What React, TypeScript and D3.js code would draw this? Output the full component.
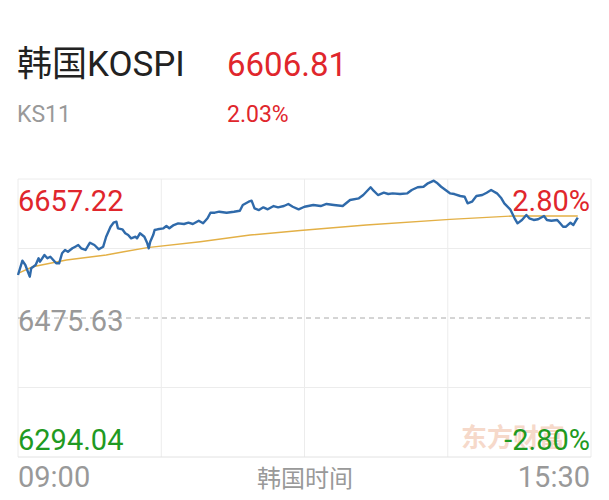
import React from "react";
import * as d3 from "d3";

// intraday minutes since 09:00 and index level
const minutes = [0, 3, 5, 8, 9, 12, 14, 15, 18, 20, 22, 24, 26, 28, 30, 32, 34, 37, 39, 41, 43, 46, 48, 49, 52, 55, 58, 60, 63, 65, 67, 68, 71, 73, 75, 77, 80, 81, 83, 86, 88, 89, 90, 92, 93, 95, 99, 101, 103, 106, 109, 113, 116, 119, 123, 126, 129, 131, 134, 137, 142, 147, 151, 153, 157, 159, 161, 164, 167, 170, 174, 177, 181, 184, 187, 191, 195, 201, 206, 210, 215, 221, 226, 232, 235, 240, 242, 245, 249, 252, 255, 260, 265, 268, 272, 276, 279, 283, 285, 288, 291, 294, 297, 301, 304, 306, 309, 312, 316, 319, 322, 326, 329, 331, 335, 338, 340, 343, 346, 348, 351, 354, 358, 360, 363, 367, 369, 371, 373, 376, 378, 380, 381];
const prices = [6531.8, 6550.5, 6544.9, 6529.6, 6540.6, 6544.9, 6553.6, 6549.2, 6557.9, 6553.6, 6555.7, 6551.4, 6547.1, 6547.1, 6560.2, 6564.5, 6562.2, 6566.7, 6568.8, 6571.0, 6566.7, 6564.5, 6571.0, 6574.0, 6571.0, 6565.4, 6568.8, 6581.8, 6594.9, 6600.1, 6601.4, 6592.8, 6591.5, 6586.3, 6584.0, 6579.7, 6581.8, 6579.7, 6586.3, 6581.8, 6573.2, 6566.7, 6575.3, 6584.0, 6590.6, 6591.5, 6592.8, 6595.8, 6592.8, 6597.1, 6599.3, 6598.4, 6600.1, 6598.4, 6602.7, 6599.3, 6605.9, 6613.2, 6613.2, 6614.5, 6613.2, 6614.5, 6615.8, 6623.3, 6627.6, 6628.9, 6618.9, 6616.7, 6620.2, 6617.6, 6621.9, 6620.2, 6621.9, 6624.6, 6621.0, 6617.6, 6621.0, 6623.3, 6621.9, 6624.6, 6623.3, 6621.9, 6629.8, 6632.0, 6636.3, 6646.4, 6641.9, 6636.3, 6639.3, 6637.6, 6638.5, 6637.6, 6638.5, 6642.8, 6646.4, 6647.1, 6651.6, 6655.0, 6652.4, 6647.1, 6642.8, 6638.5, 6637.6, 6635.0, 6634.1, 6625.4, 6627.6, 6635.0, 6636.3, 6639.3, 6642.8, 6638.5, 6632.0, 6625.4, 6617.6, 6605.9, 6599.3, 6603.7, 6610.2, 6605.9, 6603.7, 6604.6, 6608.9, 6603.7, 6602.7, 6603.7, 6599.3, 6594.9, 6594.9, 6600.1, 6597.1, 6603.7, 6606.81];

// average price line
const avgMinutes = [0, 10, 33, 60, 72, 88, 124, 158, 192, 237, 294, 337, 381];
const avgPrices = [6534.0, 6542.6, 6551.4, 6557.9, 6562.2, 6567.5, 6575.3, 6584.0, 6589.9, 6597.1, 6604.5, 6608.9, 6608.9];

const prevClose = 6475.63;
const upper = 6657.22;
const lower = 6294.04;
const lastPrice = "6606.81";
const changePct = "2.03%";
const timeLabels = ["09:00", "韩国时间", "15:30"];

const W = 609;
const H = 500;
const left = 18;
const right = 591;
const top = 179;
const bottom = 457;

const FONT = "Roboto, 'Noto Sans CJK SC', sans-serif";

export default function App() {
  const x = d3.scaleLinear().domain([0, 390]).range([left, right]);
  const y = d3.scaleLinear().domain([lower, upper]).range([bottom, top]);

  const priceLine = d3.line<number>()
    .x((_, i) => x(minutes[i]))
    .y((d) => y(d));
  const avgLine = d3.line<number>()
    .x((_, i) => x(avgMinutes[i]))
    .y((d) => y(d));

  const hTicks = d3.range(5).map((i) => lower + ((upper - lower) * i) / 4);
  const vTicks = d3.range(5).map((i) => (390 * i) / 4);

  return (
    <div style={{ position: "absolute", left: 0, top: 0 }}>
      <svg width={W} height={H} style={{ display: "block", background: "#fff" }}>
        <text x={17} y={76} fontFamily={FONT} fontSize={35} fill="#222">韩国KOSPI</text>
        <text x={227} y={76} fontFamily={FONT} fontSize={33} fill="#e0262c">{lastPrice}</text>
        <text x={17} y={122} fontFamily={FONT} fontSize={23} fill="#999">KS11</text>
        <text x={227} y={122} fontFamily={FONT} fontSize={23} fill="#e0262c">{changePct}</text>

        {/* grid */}
        {vTicks.map((t, i) => (
          <line key={"v" + i} x1={x(t)} x2={x(t)} y1={top} y2={bottom} stroke="#ececec" strokeWidth={1} />
        ))}
        {hTicks.map((t, i) =>
          i === 2 ? null : (
            <line key={"h" + i} x1={left} x2={right} y1={y(t)} y2={y(t)} stroke={i === 0 ? "#e2e2e2" : "#ececec"} strokeWidth={1} />
          )
        )}
        <line x1={left} x2={right} y1={y(prevClose)} y2={y(prevClose)} stroke="#aaa" strokeWidth={1} strokeDasharray="5,4" />

        {/* watermark */}
        <text x={461} y={447} fontFamily="'Noto Sans CJK SC'" fontWeight={700} fontSize={26} fill="#f6d9ca">东方财富</text>

        <path d={avgLine(avgPrices) || ""} fill="none" stroke="#e3b046" strokeWidth={1.4} />
        <path d={priceLine(prices) || ""} fill="none" stroke="#2f6aaa" strokeWidth={2.4} strokeLinejoin="round" />

        <text x={18} y={211} fontFamily={FONT} fontSize={29} fill="#e0262c">{upper.toFixed(2)}</text>
        <text x={590} y={211} textAnchor="end" fontFamily={FONT} fontSize={29} fill="#e0262c">2.80%</text>
        <text x={18} y={331} fontFamily={FONT} fontSize={29} fill="#999">{prevClose.toFixed(2)}</text>
        <text x={18} y={450} fontFamily={FONT} fontSize={29} fill="#1f9a22">{lower.toFixed(2)}</text>
        <text x={590} y={450} textAnchor="end" fontFamily={FONT} fontSize={29} fill="#1f9a22">-2.80%</text>

        <text x={18} y={487} fontFamily={FONT} fontSize={29} fill="#999">{timeLabels[0]}</text>
        <text x={305} y={487} textAnchor="middle" fontFamily={FONT} fontSize={24} fill="#999">{timeLabels[1]}</text>
        <text x={590} y={487} textAnchor="end" fontFamily={FONT} fontSize={29} fill="#999">{timeLabels[2]}</text>
      </svg>
    </div>
  );
}
